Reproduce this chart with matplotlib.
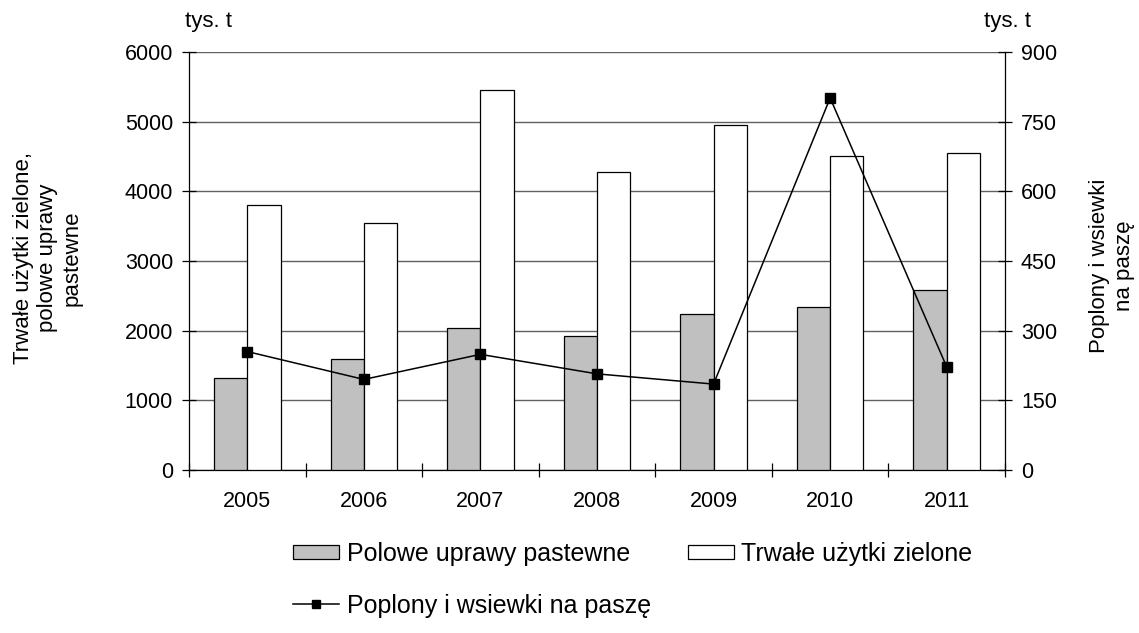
import numpy as np
from matplotlib import pyplot as plt
from matplotlib.patches import Patch
from matplotlib.lines import Line2D

years = ['2005', '2006', '2007', '2008', '2009', '2010', '2011']
polowe = [1320, 1590, 2040, 1920, 2240, 2340, 2590]
trwale = [3810, 3540, 5450, 4280, 4950, 4510, 4550]
poplony = [255, 195, 249, 207, 185, 801, 222]

left_ticks = [0, 1000, 2000, 3000, 4000, 5000, 6000]
right_ticks = [0, 150, 300, 450, 600, 750, 900]

plt.rcParams['font.family'] = ['Liberation Sans', 'DejaVu Sans']
plt.rcParams['font.size'] = 15.5

fig = plt.figure(figsize=(11.39, 6.33), dpi=100)
ax = fig.add_axes([189 / 1139, 1 - 470 / 633, (1005 - 189) / 1139, (470 - 52) / 633])

x = np.arange(len(years))
w = 0.285
grey = '#c0c0c0'
ax.bar(x - w / 2, polowe, w, color=grey, edgecolor='black', linewidth=0.9, zorder=3)
ax.bar(x + w / 2, trwale, w, color='white', edgecolor='black', linewidth=0.9, zorder=3)

ax.set_xlim(-0.5, len(years) - 0.5)
ax.set_ylim(0, 6000)
ax.set_yticks(left_ticks)
ax.yaxis.grid(True, color='#606060', linewidth=1.0, zorder=0)
ax.set_axisbelow(True)
ax.tick_params(axis='y', direction='inout', length=10, width=0.9, pad=6.5)

# category boundary ticks, labels at centres
ax.set_xticks(np.arange(-0.5, len(years), 1.0))
ax.set_xticklabels([])
ax.tick_params(axis='x', which='major', direction='inout', length=10, width=0.9)
ax.set_xticks(x, minor=True)
ax.set_xticklabels(years, minor=True)
ax.tick_params(axis='x', which='minor', length=0, pad=15)

for s in ['top', 'right']:
    ax.spines[s].set_visible(False)
for s in ['left', 'bottom']:
    ax.spines[s].set_linewidth(0.9)

ax2 = ax.twinx()
ax2.plot(x, poplony, color='black', linewidth=1.1, marker='s', markersize=7.5, zorder=5)
ax2.set_ylim(0, 900)
ax2.set_yticks(right_ticks)
ax2.tick_params(axis='y', direction='inout', length=10, width=0.9, pad=6.5)
for s in ['top', 'left', 'bottom']:
    ax2.spines[s].set_visible(False)
ax2.spines['right'].set_linewidth(0.9)

fig.text(48 / 1139, 1 - 258 / 633, 'Trwałe użytki zielone,\npolowe uprawy\npastewne',
         rotation=90, ha='center', va='center', multialignment='center', fontsize=16)
fig.text(1112 / 1139, 1 - 266 / 633, 'Poplony i wsiewki\nna paszę',
         rotation=90, ha='center', va='center', multialignment='center', fontsize=16)
fig.text(185 / 1139, 1 - 22 / 633, 'tys. t', ha='left', va='center', fontsize=16)
fig.text(984 / 1139, 1 - 22 / 633, 'tys. t', ha='left', va='center', fontsize=16)

leg_kw = dict(frameon=False, borderpad=0, borderaxespad=0, handlelength=1.85,
              handletextpad=0.3, fontsize=18)
bar_handles = [Patch(facecolor=grey, edgecolor='black', linewidth=0.9),
               Patch(facecolor='white', edgecolor='black', linewidth=0.9)]
fig.legend(bar_handles, ['Polowe uprawy pastewne', 'Trwałe użytki zielone'],
           loc='center left', bbox_to_anchor=(293 / 1139, 1 - 554 / 633), ncol=2,
           handleheight=0.5, columnspacing=2.3, **leg_kw)
line_handle = [Line2D([], [], color='black', linewidth=1.1, marker='s', markersize=6)]
fig.legend(line_handle, ['Poplony i wsiewki na paszę'],
           loc='center left', bbox_to_anchor=(293 / 1139, 1 - 606 / 633), **leg_kw)

fig.savefig('out.png', dpi=100)
